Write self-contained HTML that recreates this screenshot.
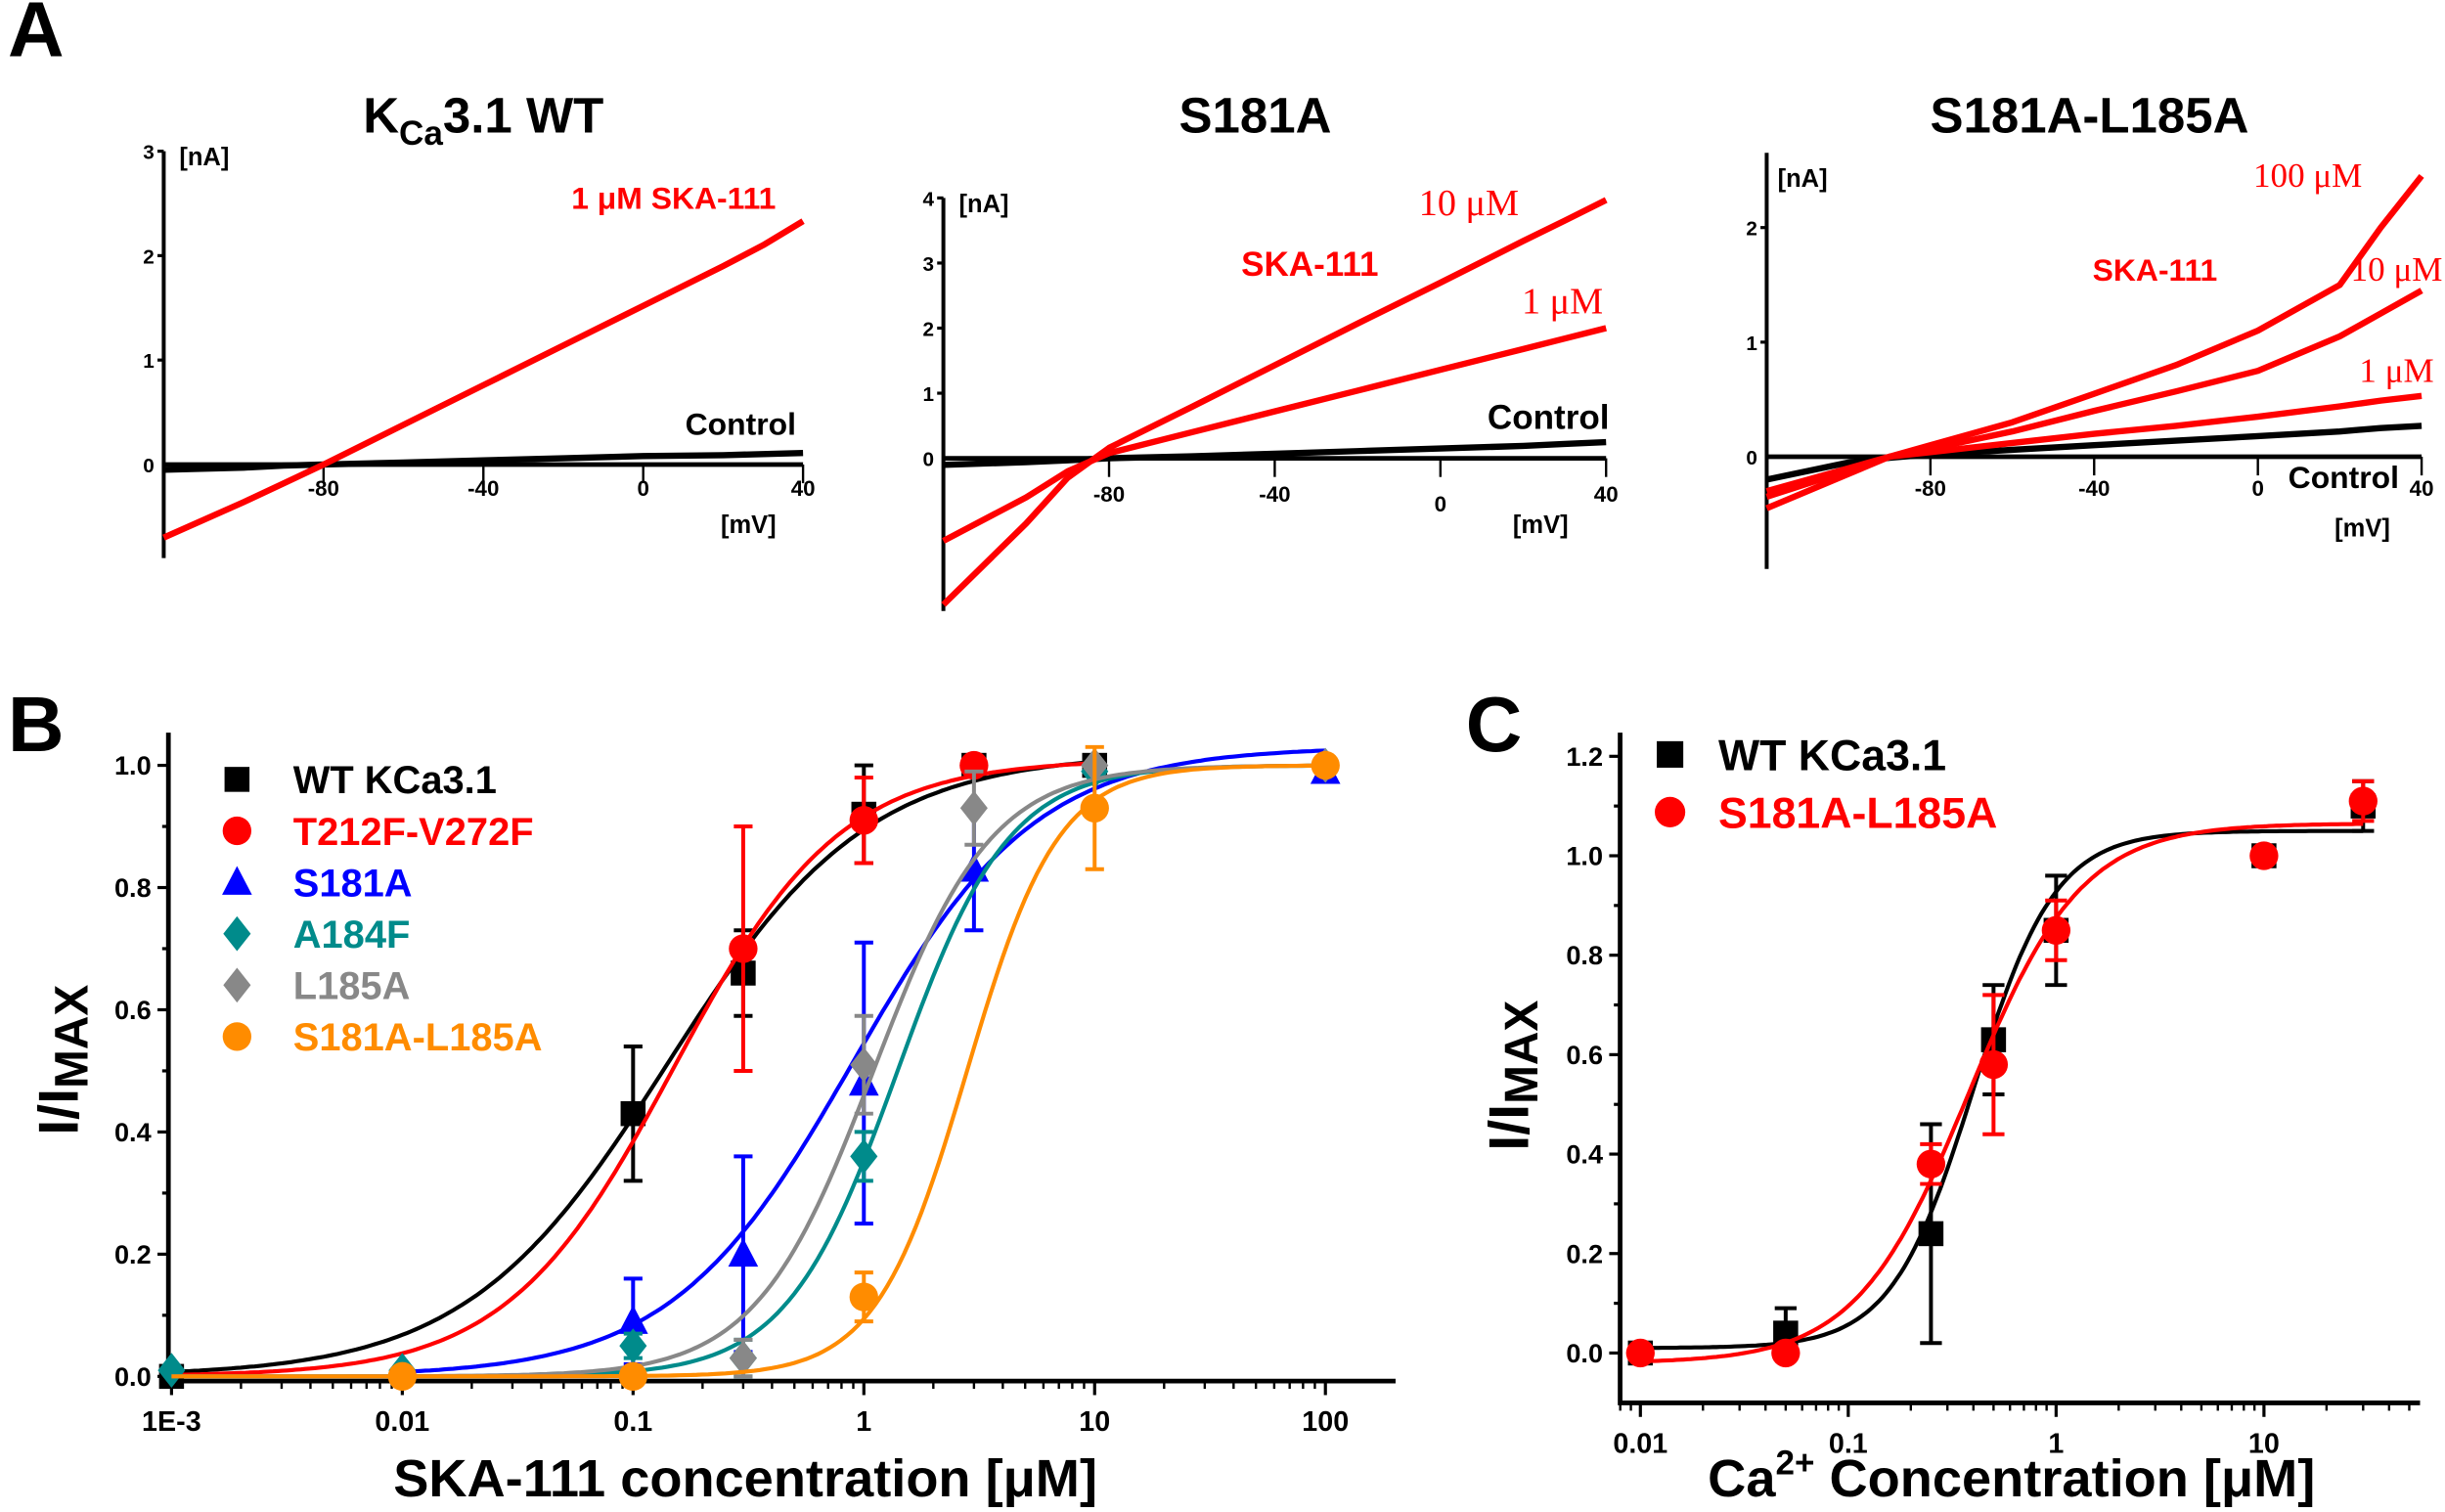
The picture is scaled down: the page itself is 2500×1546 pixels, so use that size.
<!DOCTYPE html>
<html><head><meta charset="utf-8"><style>
html,body{margin:0;padding:0;background:#fff}
svg{display:block}
text{font-family:"Liberation Sans",sans-serif;font-weight:bold}
.serif{font-family:"Liberation Serif",serif;font-weight:normal}
</style></head><body>
<svg id="fig" width="2500" height="1546" viewBox="0 0 1568 970" preserveAspectRatio="none" xmlns="http://www.w3.org/2000/svg">
<text x="5" y="36" font-size="50">A</text>
<text x="5" y="482" font-size="50">B</text>
<text x="940" y="482" font-size="50">C</text>
<g id="pa"></g>
<g id="pb"></g>
<g id="pc"></g>
</svg>
<script>
// ---------- Panel B data ----------
const bSeries = ["WT KCa3.1","T212F-V272F","S181A","A184F","L185A","S181A-L185A"];
const bColors = ["#000","#f00","#00f","#008b8b","#888","#ff8c00"];
const bMarkers = ["square","circle","triangle","diamond","diamond","circle"];
const bX = [[0.001,0.1,0.3,1,3,10],[0.3,1,3],[0.1,0.3,1,3,100],[0.001,0.01,0.1,0.3,1,10,100],[0.3,1,3,10,100],[0.01,0.1,1,10,100]];
const bY = [[0,0.43,0.66,0.92,1.0,1.0],[0.70,0.91,1.0],[0.09,0.20,0.48,0.83,0.99],[0.01,0.01,0.05,0.03,0.36,0.99,1.0],[0.03,0.51,0.93,1.0,1.0],[0,0,0.13,0.93,1.0]];
const bErr = [[0,0.11,0.07,0.08,0,0],[0.20,0.07,0],[0.07,0.16,0.23,0.1,0],[0,0,0.02,0.03,0.04,0,0],[0.03,0.08,0.06,0,0],[0,0,0.04,0.1,0]];
const bEC50 = [0.14,0.15,0.9,1.4,1.1,2.8];
const bHill = [1.0,1.2,1.1,1.8,1.7,2.2];
const bTop = [1.02,1.01,1.03,1.0,1.0,1.0];
const bRange = [[0.001,10],[0.001,10],[0.01,100],[0.001,100],[0.001,100],[0.001,100]];
const bYTicks = ["0.0","0.2","0.4","0.6","0.8","1.0"];
const bXTicks = ["1E-3","0.01","0.1","1","10","100"];
// ---------- Panel C data ----------
const cSeries = ["WT KCa3.1","S181A-L185A"];
const cColors = ["#000","#f00"];
const cMarkers = ["square","circle"];
const cX = [0.01,0.05,0.25,0.5,1,10,30];
const cY = [[0,0.04,0.24,0.63,0.85,1.0,1.10],[0,0,0.38,0.58,0.85,1.0,1.11]];
const cErr = [[0,0.05,0.22,0.11,0.11,0,0.05],[0,0,0.04,0.14,0.06,0,0.04]];
const cBottom = [0.01,-0.02];
const cTop = [1.05,1.065];
const cEC50 = [0.4,0.38];
const cHill = [2.2,1.6];
const cYTicks = ["0.0","0.2","0.4","0.6","0.8","1.0","1.2"];
const cXTicks = ["0.01","0.1","1","10"];
// ---------- Panel A data (voltage mV, current nA) ----------
const aV = [-120,-100,-90,-80,-60,-40,-20,0,20,30,40];
const aWTctrl = [-0.05,-0.03,-0.01,0.0,0.02,0.04,0.06,0.08,0.09,0.1,0.11];
const aWT1 = [-0.7,-0.36,-0.18,0.0,0.38,0.76,1.14,1.52,1.90,2.1,2.33];
const aS1ctrl = [-0.1,-0.06,-0.03,0.0,0.03,0.07,0.11,0.15,0.19,0.22,0.25];
const aS1_1 = [-1.27,-0.6,-0.2,0.08,0.4,0.72,1.04,1.36,1.68,1.84,2.0];
const aS1_10 = [-2.25,-1.0,-0.3,0.16,0.79,1.43,2.07,2.70,3.34,3.65,3.97];
const aS2ctrl = [-0.2,-0.05,-0.01,0.02,0.06,0.1,0.14,0.18,0.22,0.25,0.27];
const aS2_1 = [-0.3,-0.1,0.0,0.04,0.12,0.2,0.27,0.35,0.44,0.49,0.53];
const aS2_10 = [-0.35,-0.12,0.0,0.07,0.22,0.4,0.57,0.75,1.05,1.25,1.45];
const aS2_100 = [-0.45,-0.15,0.0,0.1,0.3,0.55,0.8,1.1,1.5,2.0,2.45];

const NS="http://www.w3.org/2000/svg";
function mk(p,tag,at,txt){const e=document.createElementNS(NS,tag);for(const k in at)e.setAttribute(k,at[k]);if(txt!==undefined)e.textContent=txt;p.appendChild(e);return e;}
function marker(g,type,x,y,c,s){let e;
 if(type==="square")e=mk(g,"rect",{x:x-s,y:y-s,width:2*s,height:2*s,fill:c});
 else if(type==="circle")e=mk(g,"circle",{cx:x,cy:y,r:s*1.15,fill:c});
 else if(type==="triangle")e=mk(g,"polygon",{points:`${x},${y-s*1.3} ${x+s*1.2},${y+s} ${x-s*1.2},${y+s}`,fill:c});
 else e=mk(g,"polygon",{points:`${x},${y-s*1.4} ${x+s*1.1},${y} ${x},${y+s*1.4} ${x-s*1.1},${y}`,fill:c});
 return e;}

// ===== Panel B =====
(function(){
 const g=document.getElementById('pb');
 const X0=110,DEC=148,Y0=883,YU=392;
 const sx=v=>X0+Math.log10(v/0.001)*DEC, sy=v=>Y0-v*YU;
 let e=mk(g,"path",{d:`M108,470 V886 H895`,stroke:"#000","stroke-width":3,fill:"none"});
 
 bYTicks.forEach((t,i)=>{const v=i*0.2,y=sy(v);
  mk(g,"line",{x1:101,x2:108,y1:y,y2:y,stroke:"#000","stroke-width":2});
  if(i<5)mk(g,"line",{x1:104,x2:108,y1:sy(v+0.1),y2:sy(v+0.1),stroke:"#000","stroke-width":2});
  e=mk(g,"text",{x:97,y:y+6,"font-size":17,"text-anchor":"end"},t);
  });
 bXTicks.forEach((t,i)=>{const x=X0+i*DEC;
  mk(g,"line",{x1:x,x2:x,y1:886,y2:895,stroke:"#000","stroke-width":2});
  if(i<5)for(let k=2;k<10;k++){const xm=x+Math.log10(k)*DEC;mk(g,"line",{x1:xm,x2:xm,y1:886,y2:891,stroke:"#000","stroke-width":1.5});}
  e=mk(g,"text",{x:x,y:918,"font-size":18,"text-anchor":"middle"},t);
  });
 e=mk(g,"text",{x:478,y:960,"font-size":34,"text-anchor":"middle"},"SKA-111 concentration [\u03bcM]");
 
 e=mk(g,"text",{transform:"translate(50,680) rotate(-90)","font-size":36,"text-anchor":"middle"});
 e.innerHTML='I/I<tspan font-size="30" dy="6">MAX</tspan>';
 
 bSeries.forEach((nm,s)=>{
  const c=bColors[s];let d="";
  const lo=Math.log10(bRange[s][0]),hi=Math.log10(bRange[s][1]);
  for(let i=0;i<=200;i++){const lx=lo+(hi-lo)*i/200,x=Math.pow(10,lx);
   const y=bTop[s]/(1+Math.pow(bEC50[s]/x,bHill[s]));d+=(i?"L":"M")+sx(x).toFixed(1)+","+sy(y).toFixed(1);}
  e=mk(g,"path",{d:d,stroke:c,"stroke-width":2.6,fill:"none"});
  
  bX[s].forEach((xv,j)=>{const x=sx(xv),y=sy(bY[s][j]),er=bErr[s][j]*YU;
   if(er>0){mk(g,"path",{d:`M${x},${y-er}V${y+er}M${x-6},${y-er}H${x+6}M${x-6},${y+er}H${x+6}`,stroke:c,"stroke-width":2.5,fill:"none"});}
   e=marker(g,bMarkers[s],x,y,c,8);
   });
  const ly=500+s*33;
  e=marker(g,bMarkers[s],152,ly,c,8);
  
  e=mk(g,"text",{x:188,y:ly+9,"font-size":25,fill:c},nm);
  
 });
})();

// ===== Panel C =====
(function(){
 const g=document.getElementById('pc');
 const AX=1039,X0=1052,DEC=133.3,Y0=868,YU=319;
 const sx=v=>X0+Math.log10(v/0.01)*DEC, sy=v=>Y0-v*YU;
 let e=mk(g,"path",{d:`M${AX},470 V900 H1552`,stroke:"#000","stroke-width":3,fill:"none"});
 
 cYTicks.forEach((t,i)=>{const v=i*0.2,y=sy(v);
  mk(g,"line",{x1:AX-7,x2:AX,y1:y,y2:y,stroke:"#000","stroke-width":2});
  if(i<6)mk(g,"line",{x1:AX-4,x2:AX,y1:sy(v+0.1),y2:sy(v+0.1),stroke:"#000","stroke-width":2});
  e=mk(g,"text",{x:AX-11,y:y+6,"font-size":17,"text-anchor":"end"},t);
  });
 for(let d=0;d<4;d++){const x=X0+d*DEC;
  mk(g,"line",{x1:x,x2:x,y1:900,y2:909,stroke:"#000","stroke-width":2});
  for(let k=2;k<10;k++){const xm=x+Math.log10(k)*DEC;if(xm<1552)mk(g,"line",{x1:xm,x2:xm,y1:900,y2:905,stroke:"#000","stroke-width":1.5});}
  e=mk(g,"text",{x:x,y:932,"font-size":18,"text-anchor":"middle"},cXTicks[d]);
  }
 [8,9].forEach(k=>{const xm=X0-DEC*Math.log10(10/k);mk(g,"line",{x1:xm,x2:xm,y1:900,y2:905,stroke:"#000","stroke-width":1.5});});
 e=mk(g,"text",{x:1290,y:960,"font-size":34,"text-anchor":"middle"});
 e.innerHTML='Ca<tspan font-size="22" dy="-14">2+</tspan><tspan dy="14"> Concentration [\u03bcM]</tspan>';
 
 e=mk(g,"text",{transform:"translate(980,690) rotate(-90)","font-size":36,"text-anchor":"middle"});
 e.innerHTML='I/I<tspan font-size="30" dy="6">MAX</tspan>';
 
 cSeries.forEach((nm,s)=>{const c=cColors[s];let d="";
  for(let i=0;i<=200;i++){const lx=-2+(Math.log10(30)+2)*i/200,x=Math.pow(10,lx);
   const y=cBottom[s]+(cTop[s]-cBottom[s])/(1+Math.pow(cEC50[s]/x,cHill[s]));d+=(i?"L":"M")+sx(x).toFixed(1)+","+sy(y).toFixed(1);}
  e=mk(g,"path",{d:d,stroke:c,"stroke-width":2.6,fill:"none"});
  
  cX.forEach((xv,j)=>{const x=sx(xv),y=sy(cY[s][j]),er=cErr[s][j]*YU;
   if(er>0)mk(g,"path",{d:`M${x},${y-er}V${y+er}M${x-7},${y-er}H${x+7}M${x-7},${y+er}H${x+7}`,stroke:c,"stroke-width":2.5,fill:"none"});
   e=marker(g,cMarkers[s],x,y,c,8);
   });
  const ly=484+s*37;
  e=marker(g,cMarkers[s],1071,ly,c,8.5);
  
  e=mk(g,"text",{x:1102,y:ly+10,"font-size":28,fill:c},nm);
  
 });
})();

// ===== Panel A =====
(function(){
 const g=document.getElementById('pa');
 const panels=[
  {title:'K<tspan font-size="22" dy="8">Ca</tspan><tspan dy="-8">3.1 WT</tspan>',tx:310,ax:105,top:97,bot:358,y0:298,pnA:67,vx:[105,515],ticks:[1,2,3],traces:[[aWTctrl,"#000"],[aWT1,"#f00"]],
   labels:[["[nA]",115,106,16,"#000",0,"start"],["[mV]",480,342,16,"#000",0,"middle"],["Control",475,279,20,"#000",0,"middle"],["1 \u03bcM SKA-111",432,134,20,"#f00",0,"middle"]],xl:318},
  {title:'S181A',tx:805,ax:605,top:127,bot:392,y0:294,pnA:41.75,vx:[605,1030],ticks:[1,2,3,4],traces:[[aS1ctrl,"#000"],[aS1_1,"#f00"],[aS1_10,"#f00"]],
   labels:[["[nA]",615,136,16,"#000",0,"start"],["[mV]",988,342,16,"#000",0,"middle"],["Control",993,275,22,"#000",0,"middle"],["10 \u03bcM",942,138,24,"#f00",1,"middle"],["SKA-111",840,177,22,"#f00",0,"middle"],["1 \u03bcM",1002,201,24,"#f00",1,"middle"]],xl:322},
  {title:'S181A-L185A',tx:1340,ax:1133,top:98,bot:365,y0:293,pnA:73.5,vx:[1133,1553],ticks:[1,2],traces:[[aS2ctrl,"#000"],[aS2_1,"#f00"],[aS2_10,"#f00"],[aS2_100,"#f00"]],
   labels:[["[nA]",1140,120,16,"#000",0,"start"],["[mV]",1515,344,16,"#000",0,"middle"],["Control",1503,313,20,"#000",0,"middle"],["100 \u03bcM",1480,120,22,"#f00",1,"middle"],["SKA-111",1382,180,20,"#f00",0,"middle"],["10 \u03bcM",1537,180,22,"#f00",1,"middle"],["1 \u03bcM",1537,245,22,"#f00",1,"middle"]],xl:318}
 ];
 panels.forEach((p,pi)=>{
  const per=(p.vx[1]-p.vx[0])/160, sx=v=>p.vx[0]+(v+120)*per, sy=v=>p.y0-v*p.pnA;
  let e=mk(g,"text",{x:p.tx,y:85,"font-size":32,"text-anchor":"middle"});e.innerHTML=p.title;
  
  e=mk(g,"line",{x1:p.ax,x2:p.ax,y1:p.top,y2:p.bot,stroke:"#000","stroke-width":2.5});
  
  e=mk(g,"line",{x1:p.vx[0],x2:p.vx[1],y1:p.y0,y2:p.y0,stroke:"#000","stroke-width":3});
  
  mk(g,"text",{x:p.ax-6,y:p.y0+5,"font-size":13,"text-anchor":"end"},"0");
  p.ticks.forEach(t=>{const y=sy(t);mk(g,"line",{x1:p.ax-4,x2:p.ax,y1:y,y2:y,stroke:"#000","stroke-width":2});
   mk(g,"text",{x:p.ax-6,y:y+5,"font-size":13,"text-anchor":"end"},String(t));});
  [-80,-40,0,40].forEach(v=>{const x=sx(v);mk(g,"line",{x1:x,x2:x,y1:p.y0,y2:p.y0+12,stroke:"#000","stroke-width":1.5});
   mk(g,"text",{x:x,y:p.xl+(v===0&&pi===1?6:0),"font-size":14,"text-anchor":"middle"},String(v));});
  p.traces.forEach(([arr,c])=>{let d="";aV.forEach((v,i)=>{d+=(i?"L":"M")+sx(v).toFixed(1)+","+sy(arr[i]).toFixed(1);});
   e=mk(g,"path",{d:d,stroke:c,"stroke-width":4,fill:"none","stroke-linejoin":"round"});
   });
  p.labels.forEach(([t,x,y,fs,c,serif,anc])=>{e=mk(g,"text",{x:x,y:y,"font-size":fs,fill:c,"text-anchor":anc},t);
   if(serif)e.setAttribute("class","serif");
   });
 });
})();
</script>
</body></html>
